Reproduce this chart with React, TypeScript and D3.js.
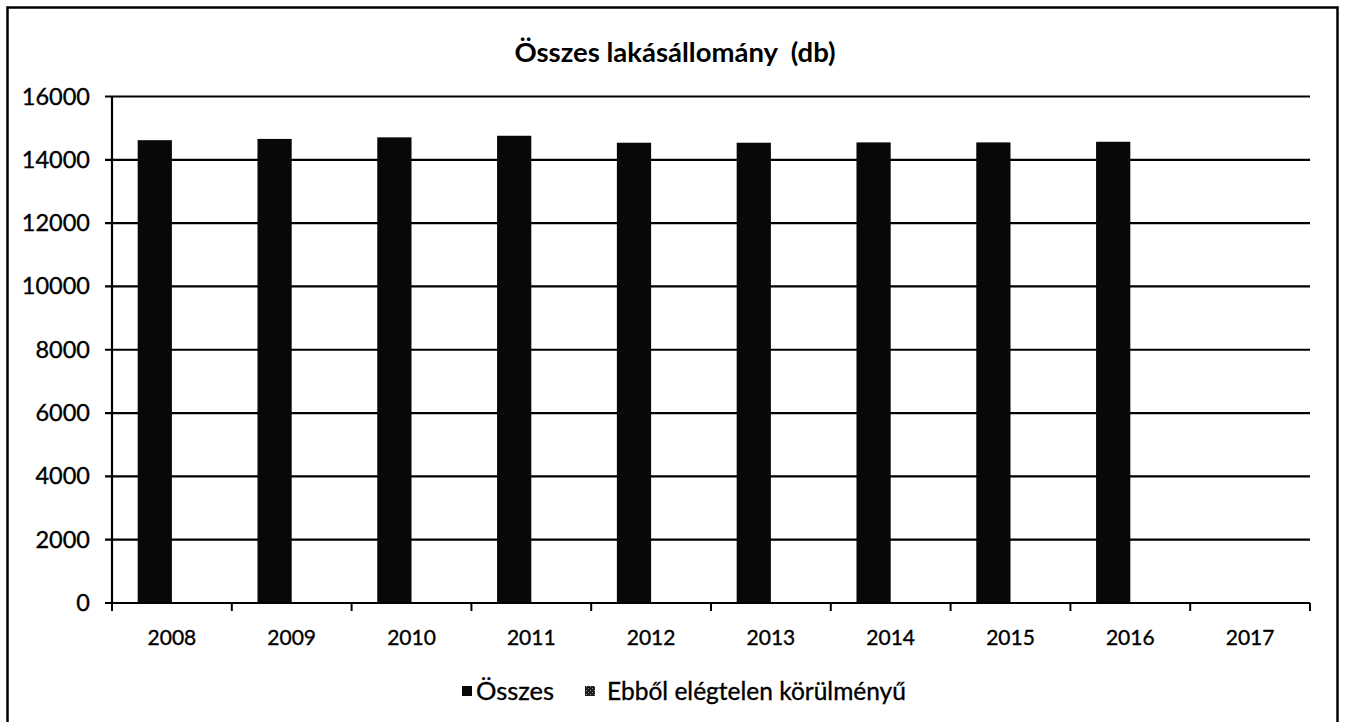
import React from "react";
import * as d3 from "d3";

const title = "Összes lakásállomány  (db)";
const years = ["2008", "2009", "2010", "2011", "2012", "2013", "2014", "2015", "2016", "2017"];
const seriesNames = ["Összes", "Ebből elégtelen körülményű"];
const osszes: (number | null)[] = [14620, 14660, 14710, 14760, 14540, 14540, 14550, 14550, 14570, null];
const ebbol: (number | null)[] = [0, 0, 0, 0, 0, 0, 0, 0, 0, null];
const yTicks = [0, 2000, 4000, 6000, 8000, 10000, 12000, 14000, 16000];

const W = 1345;
const H = 722;
const plot = { left: 112, right: 1310, top: 96.5, bottom: 603 };
const FONT = "Lato, 'Open Sans', sans-serif";
const textStroke = { stroke: "#000", strokeWidth: 0.35 };

export default function App() {
  const x = d3.scaleBand<string>().domain(years).range([plot.left, plot.right]).padding(0);
  const inner = d3
    .scaleBand<number>()
    .domain([0, 1])
    .range([0, x.bandwidth()])
    .paddingInner(0)
    .paddingOuter(0.75);
  const y = d3.scaleLinear().domain([0, 16000]).range([plot.bottom, plot.top]);
  const series = [osszes, ebbol];
  const boundaries = years.map((yr) => x(yr) as number).concat([plot.right]);

  return (
    <svg
      width={W}
      height={H}
      style={{ position: "absolute", left: 0, top: 0, background: "#fff" }}
      fontFamily={FONT}
    >
      <defs>
        <pattern id="dots" width="4" height="4" patternUnits="userSpaceOnUse">
          <rect width="4" height="4" fill="#1c1c1c" />
          <rect x="0" y="0" width="1" height="1" fill="#8a8a8a" />
          <rect x="2" y="2" width="1" height="1" fill="#9a9a9a" />
        </pattern>
      </defs>
      <rect x={0} y={0} width={W} height={H} fill="#fff" />
      {/* outer border */}
      <rect x={7.5} y={7.5} width={1330} height={730} fill="none" stroke="#000" strokeWidth={2.5} />

      {/* title */}
      <text
        x={675}
        y={62}
        textAnchor="middle"
        fontWeight={700}
        fontSize={27.5}
        style={{ whiteSpace: "pre" }}
        fill="#000"
      >
        {title}
      </text>

      {/* gridlines + y labels */}
      {yTicks.map((t) => (
        <g key={t}>
          <line x1={plot.left - 7} x2={plot.right} y1={y(t)} y2={y(t)} stroke="#000" strokeWidth={2.2} />
          <text x={90} y={y(t) + 8} textAnchor="end" fontSize={23.5} fill="#000" {...textStroke}>
            {t}
          </text>
        </g>
      ))}

      {/* bars */}
      {series.map((vals, si) =>
        vals.map((v, i) =>
          v == null || v <= 0 ? null : (
            <rect
              key={si + "-" + i}
              x={(x(years[i]) as number) + (inner(si) as number)}
              y={y(v)}
              width={inner.bandwidth()}
              height={y(0) - y(v)}
              fill={si === 0 ? "#080808" : "url(#dots)"}
            />
          )
        )
      )}

      {/* y axis */}
      <line x1={plot.left} x2={plot.left} y1={plot.top} y2={plot.bottom} stroke="#000" strokeWidth={2.2} />
      {/* x axis */}
      <line x1={plot.left} x2={plot.right} y1={plot.bottom} y2={plot.bottom} stroke="#000" strokeWidth={2.2} />
      {boundaries.map((b, i) => (
        <line key={i} x1={b} x2={b} y1={plot.bottom} y2={plot.bottom + 8} stroke="#000" strokeWidth={2} />
      ))}
      {years.map((yr) => (
        <text
          key={yr}
          x={(x(yr) as number) + x.bandwidth() / 2}
          y={645}
          textAnchor="middle"
          fontSize={21}
          fill="#000"
          {...textStroke}
        >
          {yr}
        </text>
      ))}

      {/* legend */}
      <g>
        <rect x={462} y={686} width={10} height={10} fill="#080808" />
        <text x={476} y={700} fontSize={25.5} fill="#000" {...textStroke}>
          {seriesNames[0]}
        </text>
        <rect x={585} y={686} width={10} height={10} fill="url(#dots)" />
        <text x={607} y={700} fontSize={24.5} fill="#000" {...textStroke}>
          {seriesNames[1]}
        </text>
      </g>
    </svg>
  );
}
